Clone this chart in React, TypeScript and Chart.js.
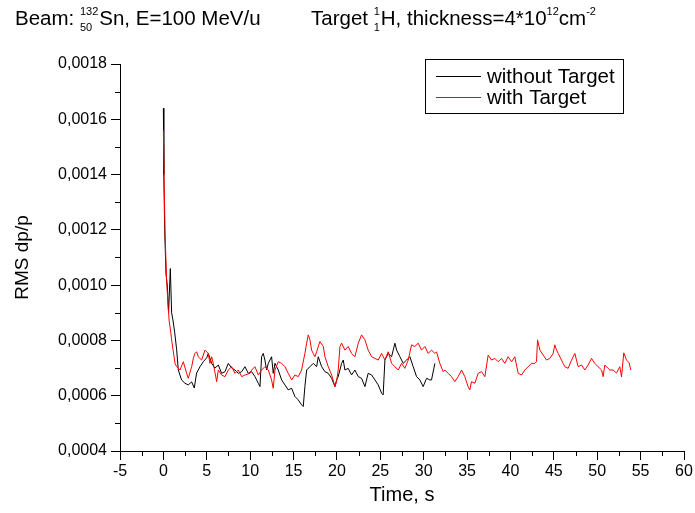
import React, { useEffect, useRef } from 'react';
import { Chart, registerables } from 'chart.js';

Chart.register(...registerables);

// Beam momentum spread over time, without and with the internal hydrogen target
const seriesNames = ['without Target', 'with Target'];

const blackTime = [
  0.0, 0.05, 0.15, 0.3, 0.45, 0.6, 0.8, 0.95, 1.1, 1.3, 1.53, 1.72, 2.1, 2.49, 2.87, 3.26, 3.56, 3.83,
  4.22, 4.6, 4.99, 5.18, 5.56, 5.94, 6.33, 6.71, 7.1, 7.48, 7.87, 8.25, 8.63, 9.02, 9.4, 9.78, 10.17,
  10.55, 10.94, 11.13, 11.32, 11.51, 11.7, 11.9, 12.09, 12.47, 12.66, 12.86, 13.24, 13.63, 14.01,
  14.39, 14.78, 15.16, 15.54, 15.93, 16.12, 16.31, 16.51, 16.89, 17.27, 17.66, 17.85, 18.24, 18.62,
  19.0, 19.39, 19.77, 19.96, 20.15, 20.54, 20.73, 20.92, 21.3, 21.69, 22.07, 22.46, 22.84, 23.23,
  23.6, 24.0, 24.38, 24.76, 25.15, 25.33, 25.53, 25.91, 26.3, 26.68, 26.88, 27.26, 27.64, 28.03,
  28.41, 28.79, 29.18, 29.56, 29.94, 30.33, 30.71, 30.9, 31.29,
];
const blackRms = [
  0.00164, 0.0014, 0.0012, 0.00104, 0.001, 0.0009, 0.00106, 0.0009, 0.000874, 0.00083, 0.000766,
  0.000693, 0.000657, 0.000645, 0.000639, 0.00065, 0.000628, 0.000682, 0.000705, 0.000723, 0.000737,
  0.000753, 0.000717, 0.0007, 0.000711, 0.000681, 0.000687, 0.000717, 0.0007, 0.000693, 0.000681,
  0.000687, 0.000705, 0.000681, 0.000687, 0.000669, 0.000645, 0.000633, 0.000741, 0.000753, 0.000729,
  0.000693, 0.000717, 0.000741, 0.000681, 0.000717, 0.000693, 0.000657, 0.000639, 0.000621, 0.000627,
  0.000597, 0.000585, 0.000567, 0.000561, 0.000633, 0.000693, 0.000705, 0.000717, 0.000705, 0.000741,
  0.000705, 0.000687, 0.000681, 0.000663, 0.000633, 0.000657, 0.000669, 0.000717, 0.000729, 0.000693,
  0.000699, 0.000675, 0.000693, 0.000669, 0.000663, 0.000633, 0.000681, 0.000675, 0.000657, 0.000639,
  0.000609, 0.000603, 0.000729, 0.000753, 0.000741, 0.00079, 0.000765, 0.000741, 0.000717, 0.000729,
  0.000741, 0.000705, 0.000669, 0.000657, 0.000633, 0.000663, 0.000657, 0.000657, 0.000717,
];

const redTime = [
  0.0, 0.1, 0.2, 0.38, 0.55, 0.67, 0.85, 0.95, 1.34, 1.53, 1.91, 2.3, 2.68, 2.87, 3.26, 3.45, 3.64,
  3.83, 4.02, 4.41, 4.79, 5.17, 5.37, 5.56, 5.75, 6.14, 6.33, 6.71, 7.1, 7.48, 7.87, 8.25, 8.63, 9.02,
  9.4, 9.98, 10.17, 10.55, 10.94, 11.32, 11.7, 12.09, 12.47, 12.66, 12.86, 13.24, 13.63, 14.01, 14.39,
  14.78, 15.16, 15.54, 15.93, 16.31, 16.51, 16.7, 16.89, 17.08, 17.27, 17.47, 17.66, 18.04, 18.43,
  18.62, 19.0, 19.39, 19.77, 19.96, 20.15, 20.35, 20.54, 20.92, 21.3, 21.69, 22.07, 22.46, 22.84,
  23.23, 23.6, 24.0, 24.38, 24.76, 25.15, 25.53, 25.91, 26.3, 26.68, 27.06, 27.45, 27.83, 28.22, 28.6,
  28.98, 29.37, 29.75, 30.14, 30.52, 30.9, 31.29, 31.48, 31.86, 32.25, 32.44, 32.82, 33.2, 33.59,
  33.97, 34.36, 34.74, 35.12, 35.32, 35.51, 35.89, 36.28, 36.67, 37.05, 37.43, 37.82, 38.2, 38.58,
  38.97, 39.35, 39.73, 40.13, 40.5, 40.89, 41.28, 41.66, 42.04, 42.43, 42.81, 43.0, 43.12, 43.39,
  43.77, 44.16, 44.54, 44.92, 45.11, 45.31, 45.5, 45.88, 46.07, 46.27, 46.65, 47.04, 47.42, 47.8,
  48.19, 48.57, 48.95, 49.34, 49.72, 50.1, 50.5, 50.68, 50.87, 51.25, 51.45, 51.83, 52.22, 52.6,
  52.8, 53.06, 53.37, 53.68, 53.87,
];
const redRms = [
  0.00156, 0.00135, 0.00118, 0.00101, 0.00092, 0.00087, 0.00083, 0.000802, 0.000717, 0.000705,
  0.000693, 0.000723, 0.000681, 0.000663, 0.000705, 0.000735, 0.000753, 0.000759, 0.000741, 0.000729,
  0.000765, 0.000753, 0.000717, 0.000741, 0.000717, 0.000651, 0.000693, 0.000675, 0.000669, 0.000693,
  0.000705, 0.000681, 0.000693, 0.000669, 0.000675, 0.000681, 0.000693, 0.000705, 0.000675, 0.000693,
  0.000705, 0.000693, 0.000657, 0.000627, 0.000693, 0.000723, 0.000717, 0.000705, 0.000681, 0.000657,
  0.000675, 0.000669, 0.000693, 0.000753, 0.00079, 0.00082, 0.000802, 0.000765, 0.000753, 0.000741,
  0.000759, 0.000796, 0.000778, 0.000741, 0.000705, 0.000675, 0.000633, 0.000651, 0.000693, 0.000778,
  0.00079, 0.000765, 0.000778, 0.000753, 0.000741, 0.00079, 0.00082, 0.000802, 0.000765, 0.000741,
  0.000735, 0.000729, 0.000753, 0.000729, 0.000759, 0.000717, 0.000705, 0.000693, 0.000717, 0.000699,
  0.000729, 0.000784, 0.000778, 0.00079, 0.000765, 0.000778, 0.000753, 0.000765, 0.000753, 0.000759,
  0.000717, 0.000687, 0.000693, 0.000681, 0.000669, 0.000651, 0.000669, 0.000693, 0.000669, 0.000633,
  0.000621, 0.000651, 0.000645, 0.000681, 0.000687, 0.000669, 0.000747, 0.000729, 0.000735, 0.000723,
  0.000735, 0.000717, 0.000741, 0.000723, 0.000741, 0.000681, 0.000675, 0.000693, 0.000705, 0.000717,
  0.000717, 0.000723, 0.000802, 0.000765, 0.000747, 0.000729, 0.000735, 0.000753, 0.000784, 0.000765,
  0.000753, 0.000729, 0.000717, 0.000705, 0.000699, 0.000729, 0.000753, 0.000705, 0.000711, 0.000693,
  0.000711, 0.000735, 0.000717, 0.000705, 0.000693, 0.000669, 0.000711, 0.000699, 0.000693, 0.000693,
  0.000682, 0.000705, 0.000668, 0.000755, 0.000729, 0.000719, 0.000693,
];

const xMin = -5;
const xMax = 60;
const xStep = 5;
const yMin = 0.0004;
const yMax = 0.0018;
const yStep = 0.0002;

const FONT = '"Liberation Sans", Arial, sans-serif';

const toPoints = (xs: number[], ys: number[]) => xs.map((x, i) => ({ x, y: ys[i] }));

// Header with isotope notation, boxed legend and minor ticks
const decorations = {
  id: 'decorations',
  afterDraw(chart: any) {
    const { ctx, chartArea, scales } = chart;
    const xs = scales.x;
    const ys = scales.y;
    ctx.save();
    ctx.strokeStyle = '#000';
    ctx.lineWidth = 1;

    // minor ticks
    ctx.beginPath();
    for (let v = xMin + xStep / 2; v < xMax; v += xStep) {
      const px = Math.round(xs.getPixelForValue(v)) + 0.5;
      ctx.moveTo(px, chartArea.bottom);
      ctx.lineTo(px, chartArea.bottom + 5);
    }
    for (let v = yMin + yStep / 2; v < yMax; v += yStep) {
      const py = Math.round(ys.getPixelForValue(v)) + 0.5;
      ctx.moveTo(chartArea.left, py);
      ctx.lineTo(chartArea.left - 5, py);
    }
    ctx.stroke();

    // header
    ctx.fillStyle = '#000';
    ctx.textAlign = 'left';
    ctx.textBaseline = 'alphabetic';
    const base = 25;
    const big = `20.5px ${FONT}`;
    const small = `11px ${FONT}`;
    let x = 15;
    const normal = (s: string) => {
      ctx.font = big;
      ctx.fillText(s, x, base);
      x += ctx.measureText(s).width;
    };
    const sup = (s: string) => {
      ctx.font = small;
      ctx.fillText(s, x, base - 10);
      x += ctx.measureText(s).width;
    };
    const stack = (top: string, bottom: string) => {
      ctx.font = small;
      ctx.fillText(top, x, base - 10);
      ctx.fillText(bottom, x, base + 6);
      x += Math.max(ctx.measureText(top).width, ctx.measureText(bottom).width) + 1;
    };
    normal('Beam: ');
    stack('132', '50');
    normal('Sn, E=100 MeV/u');
    x = 311;
    normal('Target ');
    stack('1', '1');
    normal('H, thickness=4*10');
    sup('12');
    normal('cm');
    sup('-2');

    // legend
    ctx.strokeStyle = '#000';
    ctx.strokeRect(425.5, 59.5, 198, 54);
    const rows = [
      { label: seriesNames[0], color: '#000000', y: 76 },
      { label: seriesNames[1], color: '#ff0000', y: 97 },
    ];
    ctx.font = `20.5px ${FONT}`;
    ctx.textBaseline = 'middle';
    rows.forEach((r) => {
      ctx.strokeStyle = r.color;
      ctx.beginPath();
      ctx.moveTo(436, r.y + 0.5);
      ctx.lineTo(481, r.y + 0.5);
      ctx.stroke();
      ctx.fillStyle = '#000';
      ctx.fillText(r.label, 487, r.y + 1);
    });
    ctx.restore();
  },
};

export default function App() {
  const canvasRef = useRef<HTMLCanvasElement>(null);

  useEffect(() => {
    document.body.style.margin = '0';
    const canvas = canvasRef.current;
    if (!canvas) return;
    const chart = new Chart(canvas, {
      type: 'line',
      data: {
        datasets: [
          {
            label: seriesNames[0],
            data: toPoints(blackTime, blackRms),
            borderColor: '#000000',
            borderWidth: 1,
            pointRadius: 0,
            tension: 0,
            fill: false,
            order: 1,
          },
          {
            label: seriesNames[1],
            data: toPoints(redTime, redRms),
            borderColor: '#ff0000',
            borderWidth: 1,
            pointRadius: 0,
            tension: 0,
            fill: false,
            order: 0,
          },
        ],
      },
      options: {
        responsive: false,
        animation: false,
        events: [],
        layout: { padding: { top: 64, right: 11, left: 0, bottom: 0 } },
        plugins: { legend: { display: false }, tooltip: { enabled: false } },
        scales: {
          x: {
            type: 'linear',
            min: xMin,
            max: xMax,
            border: { display: true, color: '#000', width: 1 },
            grid: { display: true, drawOnChartArea: false, drawTicks: true, tickLength: 9, color: '#000' },
            ticks: {
              stepSize: xStep,
              color: '#000',
              font: { family: FONT, size: 16 },
              padding: 2,
              maxRotation: 0,
              autoSkip: false,
              callback: (v: any) => String(v),
            },
            title: {
              display: true,
              text: 'Time, s',
              color: '#000',
              font: { family: FONT, size: 20 },
              padding: { top: 0, bottom: 6 },
            },
            afterFit: (s: any) => {
              s.height = 62;
              s.paddingLeft = 0;
              s.paddingRight = 0;
            },
          },
          y: {
            type: 'linear',
            min: yMin,
            max: yMax,
            border: { display: true, color: '#000', width: 1 },
            grid: { display: true, drawOnChartArea: false, drawTicks: true, tickLength: 9, color: '#000' },
            ticks: {
              stepSize: yStep,
              color: '#000',
              font: { family: FONT, size: 16 },
              padding: 4,
              autoSkip: false,
              callback: (v: any) => Number(v).toFixed(4).replace('.', ','),
            },
            title: {
              display: true,
              text: 'RMS dp/p',
              color: '#000',
              font: { family: FONT, size: 19 },
              padding: { top: 11, bottom: 0 },
            },
            afterFit: (s: any) => {
              s.width = 120;
              s.paddingTop = 0;
              s.paddingBottom = 0;
            },
          },
        },
      },
      plugins: [decorations],
    });
    return () => chart.destroy();
  }, []);

  return (
    <div style={{ position: 'fixed', left: 0, top: 0, width: 695, height: 513, background: '#fff' }}>
      <canvas ref={canvasRef} width={695} height={513} style={{ display: 'block' }} />
    </div>
  );
}
